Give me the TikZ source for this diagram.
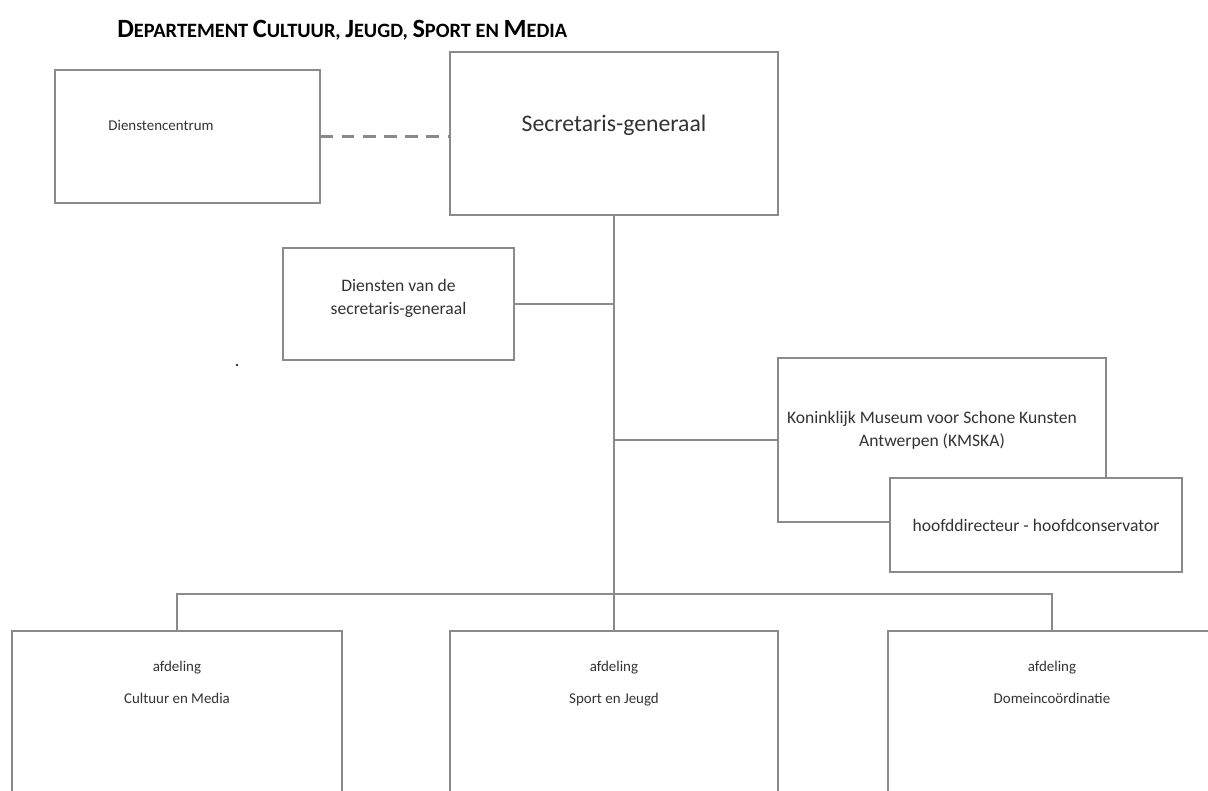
\documentclass[tikz,border=0pt]{standalone}
\usepackage{fontspec}
\setmainfont{Carlito}
\usepackage{tikz}

\definecolor{boxgray}{HTML}{8A8A8A}
\definecolor{txtgray}{HTML}{333333}
\tikzset{
  box/.style={draw=boxgray,line width=1.2pt,fill=white,inner sep=0pt},
  lbl/.style={text=txtgray,font=\fontsize{8.5}{10}\selectfont,align=center},
  midlbl/.style={lbl,font=\fontsize{10}{13}\selectfont},
  link/.style={draw=boxgray,line width=1.2pt,line join=miter}
}
\newcommand{\bigc}[1]{{\fontsize{15}{16}\selectfont #1}}

\begin{document}
\begin{tikzpicture}[x=0.02cm,y=-0.02cm]
\path[use as bounding box] (0,0) rectangle (1208,791);
\clip (0,0) rectangle (1208,791);
\node[anchor=base west,text=black,font=\bfseries\fontsize{11.6}{13}\selectfont,inner sep=0pt] (title) at (117,37)
  {\bigc{D}EPARTEMENT \bigc{C}ULTUUR, \bigc{J}EUGD, \bigc{S}PORT EN \bigc{M}EDIA};
% top row
\node[box,minimum width=265*0.02cm,minimum height=133*0.02cm] (dc) at (187.5,136.5) {};
\node[lbl] (dct) at (161,125) {Dienstencentrum};
\node[box,minimum width=328*0.02cm,minimum height=163*0.02cm] (secgen) at (614,133.5) {};
\node[lbl,font=\fontsize{13.5}{15}\selectfont] (sgt) at (614,125) {Secretaris-generaal};
\draw[link,dash pattern=on 7pt off 5pt] (dc.east) -- (dc.east -| secgen.west);
% staff
\node[box,minimum width=231*0.02cm,minimum height=112*0.02cm] (diensten) at (398.5,304) {};
\node[midlbl] (dt) at (398.5,298) {Diensten van de\\secretaris-generaal};
\fill[txtgray] (237,365) circle (1.3);
\node[box,minimum width=328*0.02cm,minimum height=164*0.02cm] (kmska) at (942,440) {};
\node[midlbl] (kt) at (932,430) {Koninklijk Museum voor Schone Kunsten\\Antwerpen (KMSKA)};
\node[box,minimum width=292*0.02cm,minimum height=94*0.02cm] (hoofd) at (1036,525) {};
\node[midlbl] (ht) at (1036,525) {hoofddirecteur - hoofdconservator};
% departments
\node[box,minimum width=330*0.02cm,minimum height=200*0.02cm,anchor=north] (cm) at (177,630) {};
\node[lbl,anchor=north] (cmt) at (177,655) {afdeling\\[8pt]Cultuur en Media};
\node[box,minimum width=328*0.02cm,minimum height=200*0.02cm,anchor=north] (sj) at (614,630) {};
\node[lbl,anchor=north] (sjt) at (614,655) {afdeling\\[8pt]Sport en Jeugd};
\node[box,minimum width=328*0.02cm,minimum height=200*0.02cm,anchor=north] (dom) at (1052,630) {};
\node[lbl,anchor=north] (domt) at (1052,655) {afdeling\\[8pt]Domeincoördinatie};
% connectors
\coordinate (split) at (614,594);
\draw[link] (secgen.south) -- (sj.north);
\draw[link] (diensten.east) -- (diensten.east -| secgen.south);
\draw[link] (kmska.west) -- (kmska.west -| secgen.south);
\draw[link] (cm.north) |- (split) -| (dom.north);
\end{tikzpicture}
\end{document}
